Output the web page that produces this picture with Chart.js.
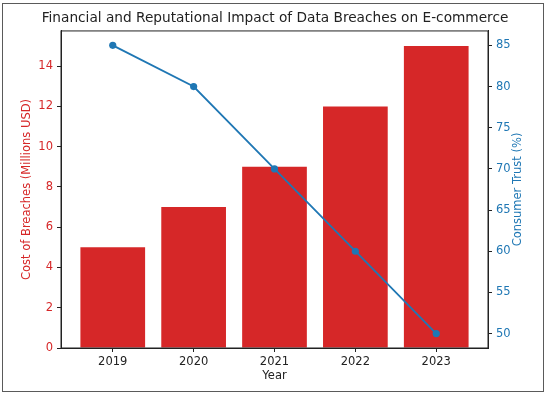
<!DOCTYPE html>
<html>
<head>
<meta charset="utf-8">
<script src="https://cdn.jsdelivr.net/npm/chart.js@4"></script>
<style>
    body { margin: 0; background: #fff; }
    #wrap { position: relative; width: 550px; height: 397px; }
    #frame {
        position: absolute; left: 2px; top: 3px; width: 540px; height: 387px;
        border: 1.5px solid #5a5a5a; pointer-events: none;
    }
</style>
</head>
<body>
<div id="wrap">
    <canvas id="chart" width="550" height="397"></canvas>
    <div id="frame"></div>
</div>
<script>
// data
const years = ['2019', '2020', '2021', '2022', '2023'];
const breachCost = [5, 7, 9, 12, 15];
const consumerTrust = [85, 80, 70, 60, 50];

const costTicks = [0, 2, 4, 6, 8, 10, 12, 14];
const trustTicks = [50, 55, 60, 65, 70, 75, 80, 85];

const red = '#d62728';
const blue = '#1f77b4';

Chart.defaults.font.family = "'DejaVu Sans', sans-serif";

// put the ticks exactly where we want them
function fixedTicks(values) {
    return function (scale) {
        scale.ticks = values.map(v => ({ value: v }));
    };
}

// matplotlib style box around the plot area + right axis label read bottom to top
const boxPlugin = {
    id: 'box',
    afterDraw(chart) {
        const { ctx, chartArea } = chart;
        ctx.save();
        ctx.strokeStyle = '#222';
        ctx.lineWidth = 1;
        ctx.strokeRect(chartArea.left, chartArea.top, chartArea.right - chartArea.left, chartArea.bottom - chartArea.top);

        ctx.translate(518, (chartArea.top + chartArea.bottom) / 2);
        ctx.rotate(-Math.PI / 2);
        ctx.fillStyle = blue;
        ctx.font = "11.5px 'DejaVu Sans', sans-serif";
        ctx.textAlign = 'center';
        ctx.textBaseline = 'middle';
        ctx.fillText('Consumer Trust (%)', 0, 0);
        ctx.restore();
    }
};

new Chart(document.getElementById('chart'), {
    type: 'bar',
    data: {
        datasets: [
            {
                type: 'line',
                data: consumerTrust.map((v, i) => ({ x: i, y: v })),
                yAxisID: 'y1',
                borderColor: blue,
                backgroundColor: blue,
                borderWidth: 1.8,
                pointRadius: 3.6,
                pointBorderWidth: 0,
                pointBackgroundColor: blue,
                order: 0
            },
            {
                data: breachCost.map((v, i) => ({ x: i, y: v })),
                yAxisID: 'y',
                backgroundColor: red,
                barPercentage: 0.8,
                categoryPercentage: 1,
                order: 1
            }
        ]
    },
    options: {
        responsive: false,
        animation: false,
        devicePixelRatio: 1,
        layout: { padding: 0 },
        plugins: {
            legend: { display: false },
            tooltip: { enabled: false },
            title: {
                display: true,
                text: 'Financial and Reputational Impact of Data Breaches on E-commerce',
                color: '#222',
                font: { size: 13.7, weight: 'normal' },
                padding: { top: 10, bottom: 4.5 }
            }
        },
        scales: {
            x: {
                type: 'linear',
                offset: false,
                min: -0.64,
                max: 4.64,
                afterBuildTicks: fixedTicks([0, 1, 2, 3, 4]),
                afterFit: s => { s.height = 49; },
                ticks: {
                    color: '#222',
                    font: { size: 11.5 },
                    padding: 3,
                    maxRotation: 0,
                    callback: v => years[v]
                },
                grid: { offset: false, drawOnChartArea: false, drawTicks: true, tickLength: 4, color: '#222' },
                border: { color: '#222' },
                title: {
                    display: true,
                    text: 'Year',
                    color: '#222',
                    font: { size: 11.5 },
                    padding: { top: 0, bottom: 14 }
                }
            },
            y: {
                position: 'left',
                min: 0,
                max: 15.75,
                afterBuildTicks: fixedTicks(costTicks),
                afterFit: s => { s.width = 61; },
                ticks: { color: red, font: { size: 11.5 }, padding: 4 },
                grid: { drawOnChartArea: false, drawTicks: true, tickLength: 4, color: '#222' },
                border: { color: '#222' },
                title: {
                    display: true,
                    text: 'Cost of Breaches (Millions USD)',
                    color: red,
                    font: { size: 11.5 },
                    padding: { top: 20, bottom: 0 }
                }
            },
            y1: {
                position: 'right',
                min: 48.25,
                max: 86.75,
                afterBuildTicks: fixedTicks(trustTicks),
                afterFit: s => { s.width = 62; },
                ticks: { color: blue, font: { size: 11.5 }, padding: 4 },
                grid: { drawOnChartArea: false, drawTicks: true, tickLength: 4, color: '#222' },
                border: { color: '#222' }
            }
        }
    },
    plugins: [boxPlugin]
});
</script>
</body>
</html>
